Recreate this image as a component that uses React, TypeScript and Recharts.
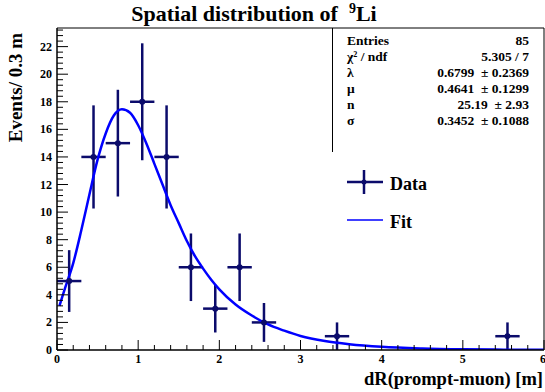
import React from 'react';
import { ComposedChart, Line, Scatter, ErrorBar, XAxis, YAxis, ReferenceLine } from 'recharts';

// histogram bins (0.3 m wide), counts and errors
const binCenters = [0.15, 0.45, 0.75, 1.05, 1.35, 1.65, 1.95, 2.25, 2.55, 3.45, 5.55];
const binCounts = [5, 14, 15, 18, 14, 6, 3, 6, 2, 1, 1];
const binErrors = [2.24, 3.74, 3.87, 4.24, 3.74, 2.45, 1.73, 2.45, 1.41, 1.0, 1.0];
const binHalfWidth = 0.15;

// fit curve, points
const fitX = [0.03, 0.1, 0.2, 0.3, 0.4, 0.5, 0.6, 0.7, 0.8, 0.9, 1.0, 1.1, 1.2, 1.3, 1.4, 1.5, 1.6, 1.7, 1.8, 1.9, 2.0, 2.2, 2.4, 2.6, 2.8, 3.0, 3.3, 3.6, 4.0, 4.5, 5.0, 5.5, 6.0];
const fitY = [3.2, 4.5, 6.3, 8.7, 11.3, 13.8, 15.7, 17.0, 17.45, 17.2, 16.3, 15.0, 13.5, 12.0, 10.5, 9.2, 7.9, 6.8, 5.9, 5.1, 4.4, 3.3, 2.5, 1.85, 1.4, 1.02, 0.65, 0.42, 0.23, 0.11, 0.05, 0.025, 0.01];

const xLabels = [0, 1, 2, 3, 4, 5, 6];
const yLabels = [0, 2, 4, 6, 8, 10, 12, 14, 16, 18, 20, 22];

const statNames = ['Entries', 'χ² / ndf', 'λ', 'μ', 'n', 'σ'];
const statValues = ['85', '5.305 / 7', '0.6799  ± 0.2369', '0.4641  ± 0.1299', '25.19  ± 2.93', '0.3452  ± 0.1088'];

const W = 545;
const H = 392;
const Y_MAX = 23.35;
const navy = '#0b0b6b';
const font = '"Liberation Serif", "Times New Roman", serif';

const points = binCenters.map((x, i) => ({ x, y: binCounts[i], ey: binErrors[i], ex: binHalfWidth }));
const fitData = fitX.map((x, i) => ({ x, y: fitY[i] }));

const xTicks: number[] = [];
for (let i = 0; i <= 30; i++) xTicks.push(Math.round(i * 2) / 10);
const yTicks: number[] = [];
for (let i = 0; i * 0.4 <= Y_MAX; i++) yTicks.push(Math.round(i * 4) / 10);

const isInt = (v: number, step: number) => Math.abs(v / step - Math.round(v / step)) < 1e-6;

function XTick({ x, y, payload }: any) {
  const v = payload.value;
  const major = isInt(v, 1);
  const label = xLabels.includes(v);
  return (
    <g>
      <line x1={x} x2={x} y1={y} y2={y - (major ? 10 : 5)} stroke="#000" strokeWidth={1} />
      {label && (
        <text x={v === 6 ? x - 1 : x} y={y + 13} textAnchor="middle" fontFamily={font} fontWeight="bold" fontSize={12} fill="#000">
          {v}
        </text>
      )}
    </g>
  );
}

function YTick({ x, y, payload }: any) {
  const v = payload.value;
  const major = isInt(v, 2);
  const label = yLabels.includes(v);
  return (
    <g>
      <line x1={x} x2={x + (major ? 11 : 6)} y1={y} y2={y} stroke="#000" strokeWidth={1} />
      {label && (
        <text x={x - 5} y={y + 4} textAnchor="end" fontFamily={font} fontWeight="bold" fontSize={12} fill="#000">
          {v}
        </text>
      )}
    </g>
  );
}

const Dot = ({ cx, cy }: any) => <circle cx={cx} cy={cy} r={3} fill={navy} />;

export default function App() {
  return (
    <div style={{ position: 'absolute', left: 0, top: 0, width: W, height: H, background: '#fff' }}>
      <ComposedChart width={W} height={H} margin={{ top: 28, right: 1, bottom: 0, left: 0 }}>
        <XAxis
          type="number"
          dataKey="x"
          domain={[0, 6]}
          ticks={xTicks}
          interval={0}
          height={42}
          tickSize={0}
          tickMargin={0}
          tickLine={false}
          tick={<XTick />}
          axisLine={{ stroke: '#000', strokeWidth: 1.5 }}
          allowDataOverflow
        />
        <YAxis
          type="number"
          dataKey="y"
          domain={[0, Y_MAX]}
          ticks={yTicks}
          interval={0}
          width={57}
          tickSize={0}
          tickMargin={0}
          tickLine={false}
          tick={<YTick />}
          axisLine={{ stroke: '#000', strokeWidth: 1.5 }}
          allowDataOverflow
        />
        <ReferenceLine y={Y_MAX} stroke="#000" strokeWidth={1} />
        <ReferenceLine x={6} stroke="#000" strokeWidth={1} />
        <Scatter data={points} dataKey="y" fill={navy} shape={<Dot />} isAnimationActive={false}>
          <ErrorBar dataKey="ey" direction="y" width={0} stroke={navy} strokeWidth={2.5} />
          <ErrorBar dataKey="ex" direction="x" width={0} stroke={navy} strokeWidth={2.5} />
        </Scatter>
        <Line
          data={fitData}
          dataKey="y"
          type="monotone"
          stroke="#0000ff"
          strokeWidth={2.5}
          dot={false}
          activeDot={false}
          isAnimationActive={false}
        />
      </ComposedChart>
      <svg width={W} height={H} style={{ position: 'absolute', left: 0, top: 0, pointerEvents: 'none' }}>
        <text x={254} y={21} textAnchor="middle" fontFamily={font} fontWeight="bold" fontSize={22} style={{ whiteSpace: 'pre' }}>
          Spatial distribution of  <tspan dy={-8} fontSize={14}>9</tspan>
          <tspan dy={8}>Li</tspan>
        </text>
        <text
          transform="translate(22, 33) rotate(-90)"
          textAnchor="end"
          fontFamily={font}
          fontWeight="bold"
          fontSize={19}
        >
          Events/ 0.3 m
        </text>
        <text x={543} y={385} textAnchor="end" fontFamily={font} fontWeight="bold" fontSize={18.5}>
          dR(prompt-muon) [m]
        </text>
        <line x1={332.5} x2={332.5} y1={28} y2={152} stroke="#000" strokeWidth={1} />
        {statNames.map((s, i) => (
          <text key={s} x={347} y={44.5 + i * 16} fontFamily={font} fontWeight="bold" fontSize={13.5} style={{ whiteSpace: 'pre' }}>
            {s}
          </text>
        ))}
        {statValues.map((s, i) => (
          <text key={i} x={529} y={44.5 + i * 16} textAnchor="end" fontFamily={font} fontWeight="bold" fontSize={13.5} style={{ whiteSpace: 'pre' }}>
            {s}
          </text>
        ))}
        <line x1={347} x2={383} y1={182} y2={182} stroke={navy} strokeWidth={2.5} />
        <line x1={364} x2={364} y1={170} y2={194} stroke={navy} strokeWidth={2.5} />
        <circle cx={364} cy={182} r={2.5} fill={navy} />
        <text x={390} y={190} fontFamily={font} fontWeight="bold" fontSize={18}>
          Data
        </text>
        <line x1={347} x2={383} y1={220} y2={220} stroke="#0000ff" strokeWidth={1.5} />
        <text x={390} y={228} fontFamily={font} fontWeight="bold" fontSize={18}>
          Fit
        </text>
      </svg>
    </div>
  );
}
